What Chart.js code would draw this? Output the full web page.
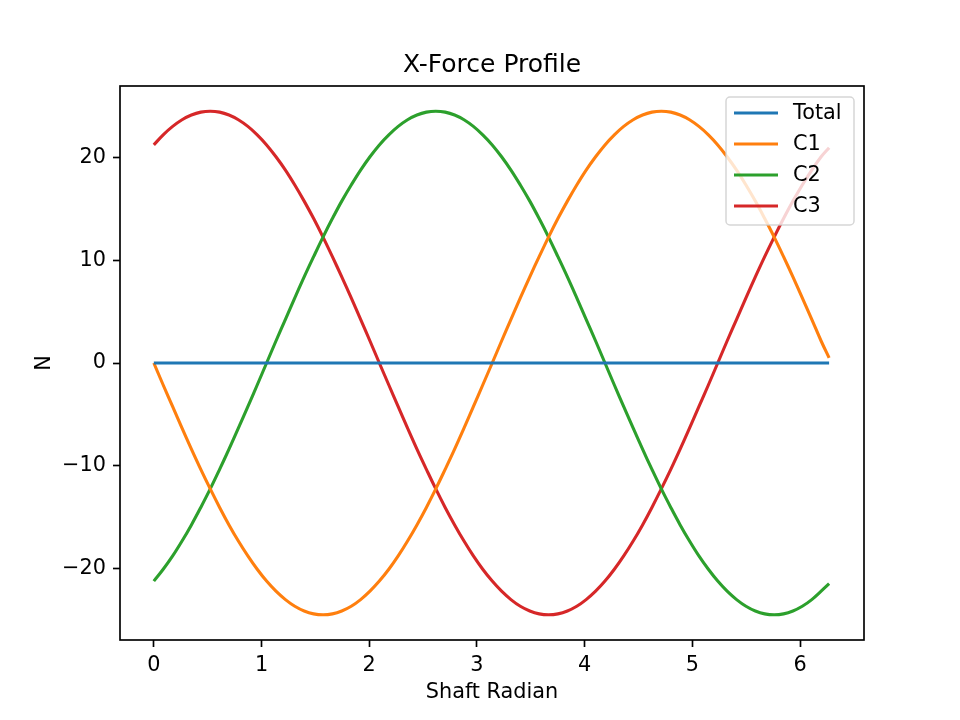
<!DOCTYPE html>
<html>
<head>
<meta charset="utf-8">
<script src="https://cdn.jsdelivr.net/npm/chart.js@4/dist/chart.umd.min.js"></script>
<style>
  body { margin: 0; background: #fff; }
  #wrap { width: 960px; height: 720px; }
</style>
</head>
<body>
<div id="wrap"><canvas id="chart" width="960" height="720"></canvas></div>
<script>
// valori (forza in N per angolo dell'albero, passo ~5 gradi)
const shaftRadian = [0, 0.087, 0.175, 0.262, 0.349, 0.436, 0.524, 0.611, 0.698, 0.785, 0.873, 0.960, 1.047, 1.134, 1.222, 1.309,
  1.396, 1.484, 1.571, 1.658, 1.745, 1.833, 1.920, 2.007, 2.094, 2.182, 2.269, 2.356, 2.443, 2.531, 2.618, 2.705, 2.793, 2.880,
  2.967, 3.054, 3.142, 3.229, 3.316, 3.403, 3.491, 3.578, 3.665, 3.752, 3.840, 3.927, 4.014, 4.102, 4.189, 4.276, 4.363, 4.451,
  4.538, 4.625, 4.712, 4.800, 4.887, 4.974, 5.061, 5.149, 5.236, 5.323, 5.411, 5.498, 5.585, 5.672, 5.760, 5.847, 5.934, 6.021,
  6.109, 6.196, 6.270];

const total = [0, 0, 0, 0, 0, 0, 0, 0, 0, 0, 0, 0, 0, 0, 0, 0, 0, 0, 0, 0, 0, 0, 0, 0, 0, 0, 0, 0, 0, 0, 0, 0, 0, 0, 0, 0, 0,
  0, 0, 0, 0, 0, 0, 0, 0, 0, 0, 0, 0, 0, 0, 0, 0, 0, 0, 0, 0, 0, 0, 0, 0, 0, 0, 0, 0, 0, 0, 0, 0, 0, 0, 0, 0];

const c1 = [0, -2.14, -4.25, -6.34, -8.38, -10.35, -12.25, -14.05, -15.75, -17.32, -18.77, -20.07, -21.22, -22.20, -23.02, -23.67,
  -24.13, -24.41, -24.5, -24.41, -24.13, -23.67, -23.02, -22.20, -21.22, -20.07, -18.77, -17.32, -15.75, -14.05, -12.25, -10.35,
  -8.38, -6.34, -4.25, -2.14, 0, 2.14, 4.25, 6.34, 8.38, 10.35, 12.25, 14.05, 15.75, 17.32, 18.77, 20.07, 21.22, 22.20, 23.02,
  23.67, 24.13, 24.41, 24.5, 24.41, 24.13, 23.67, 23.02, 22.20, 21.22, 20.07, 18.77, 17.32, 15.75, 14.05, 12.25, 10.35, 8.38,
  6.34, 4.25, 2.14, 0.5];

const c2 = [-21.22, -20.07, -18.77, -17.32, -15.75, -14.05, -12.25, -10.35, -8.38, -6.34, -4.25, -2.14, 0, 2.14, 4.25, 6.34,
  8.38, 10.35, 12.25, 14.05, 15.75, 17.32, 18.77, 20.07, 21.22, 22.20, 23.02, 23.67, 24.13, 24.41, 24.5, 24.41, 24.13, 23.67,
  23.02, 22.20, 21.22, 20.07, 18.77, 17.32, 15.75, 14.05, 12.25, 10.35, 8.38, 6.34, 4.25, 2.14, 0, -2.14, -4.25, -6.34, -8.38,
  -10.35, -12.25, -14.05, -15.75, -17.32, -18.77, -20.07, -21.22, -22.20, -23.02, -23.67, -24.13, -24.41, -24.5, -24.41, -24.13,
  -23.67, -23.02, -22.20, -21.47];

const c3 = [21.22, 22.20, 23.02, 23.67, 24.13, 24.41, 24.5, 24.41, 24.13, 23.67, 23.02, 22.20, 21.22, 20.07, 18.77, 17.32, 15.75,
  14.05, 12.25, 10.35, 8.38, 6.34, 4.25, 2.14, 0, -2.14, -4.25, -6.34, -8.38, -10.35, -12.25, -14.05, -15.75, -17.32, -18.77,
  -20.07, -21.22, -22.20, -23.02, -23.67, -24.13, -24.41, -24.5, -24.41, -24.13, -23.67, -23.02, -22.20, -21.22, -20.07, -18.77,
  -17.32, -15.75, -14.05, -12.25, -10.35, -8.38, -6.34, -4.25, -2.14, 0, 2.14, 4.25, 6.34, 8.38, 10.35, 12.25, 14.05, 15.75,
  17.32, 18.77, 20.07, 20.95];

const xTicks = [0, 1, 2, 3, 4, 5, 6];
const yTicks = [-20, -10, 0, 10, 20];

const seriesNames = ['Total', 'C1', 'C2', 'C3'];
const seriesColors = ['#1f77b4', '#ff7f0e', '#2ca02c', '#d62728'];
const seriesValues = [total, c1, c2, c3];

Chart.defaults.font.family = '"DejaVu Sans", sans-serif';
Chart.defaults.color = '#000';

const toPoints = values => values.map((v, i) => ({ x: shaftRadian[i], y: v }));
const minusSign = v => (v < 0 ? '\u2212' + Math.abs(v) : String(v));

// cornice completa + legenda stile matplotlib
const frameAndLegend = {
  id: 'frameAndLegend',
  afterDatasetsDraw(chart) {
    const { ctx, chartArea: a } = chart;
    ctx.save();
    ctx.strokeStyle = '#000';
    ctx.lineWidth = 1.67;
    ctx.strokeRect(a.left, a.top, a.right - a.left, a.bottom - a.top);

    const w = 128, h = 128;
    const bx = a.right - 10 - w, by = a.top + 11;
    ctx.beginPath();
    ctx.roundRect(bx, by, w, h, 4);
    ctx.fillStyle = 'rgba(255,255,255,0.8)';
    ctx.fill();
    ctx.strokeStyle = 'rgba(204,204,204,0.8)';
    ctx.lineWidth = 1.5;
    ctx.stroke();

    ctx.font = '20.8px "DejaVu Sans", sans-serif';
    ctx.textBaseline = 'middle';
    ctx.textAlign = 'left';
    chart.data.datasets.forEach((ds, i) => {
      const ry = by + 16 + i * 31;
      ctx.beginPath();
      ctx.moveTo(bx + 8, ry);
      ctx.lineTo(bx + 52, ry);
      ctx.strokeStyle = ds.borderColor;
      ctx.lineWidth = 3.1;
      ctx.stroke();
      ctx.fillStyle = '#000';
      ctx.fillText(ds.label, bx + 67, ry + 1);
    });
    ctx.restore();
  }
};

new Chart(document.getElementById('chart'), {
  type: 'line',
  data: {
    datasets: seriesNames.map((name, i) => ({
      label: name,
      data: toPoints(seriesValues[i]),
      borderColor: seriesColors[i],
      backgroundColor: seriesColors[i],
      borderWidth: 3.1,
      pointRadius: 0,
      tension: 0.4,
      fill: false
    }))
  },
  options: {
    responsive: false,
    animation: false,
    devicePixelRatio: 1,
    layout: { padding: { left: 24, right: 0, top: 0, bottom: 0 } },
    plugins: {
      legend: { display: false },
      tooltip: { enabled: false },
      title: {
        display: true,
        text: 'X-Force Profile',
        font: { size: 25, weight: 'normal' },
        padding: { top: 50, bottom: 6 }
      }
    },
    scales: {
      x: {
        type: 'linear',
        min: -0.314,
        max: 6.594,
        afterBuildTicks: s => { s.ticks = xTicks.map(v => ({ value: v })); },
        afterFit: s => { s.height = 80; },
        ticks: { font: { size: 20.8 }, padding: 6, callback: v => minusSign(v) },
        grid: { drawOnChartArea: false, drawTicks: true, tickLength: 7, tickWidth: 1.67, tickColor: '#000' },
        border: { display: false },
        title: { display: true, text: 'Shaft Radian', font: { size: 20.8 }, padding: { top: 0, bottom: 15 } }
      },
      y: {
        min: -26.95,
        max: 26.95,
        afterBuildTicks: s => { s.ticks = yTicks.map(v => ({ value: v })); },
        afterFit: s => { s.width = 96; },
        ticks: { font: { size: 20.8 }, padding: 7, callback: v => minusSign(v) },
        grid: { drawOnChartArea: false, drawTicks: true, tickLength: 7, tickWidth: 1.67, tickColor: '#000' },
        border: { display: false },
        title: { display: true, text: 'N', font: { size: 20.8 }, padding: { top: 8, bottom: 0 } }
      },
      // asse vuoto a destra: riserva il margine destro così il titolo resta centrato sugli assi
      yRight: {
        position: 'right',
        display: true,
        afterFit: s => { s.width = 96; },
        ticks: { display: false },
        grid: { display: false },
        border: { display: false }
      }
    }
  },
  plugins: [frameAndLegend]
});
</script>
</body>
</html>
